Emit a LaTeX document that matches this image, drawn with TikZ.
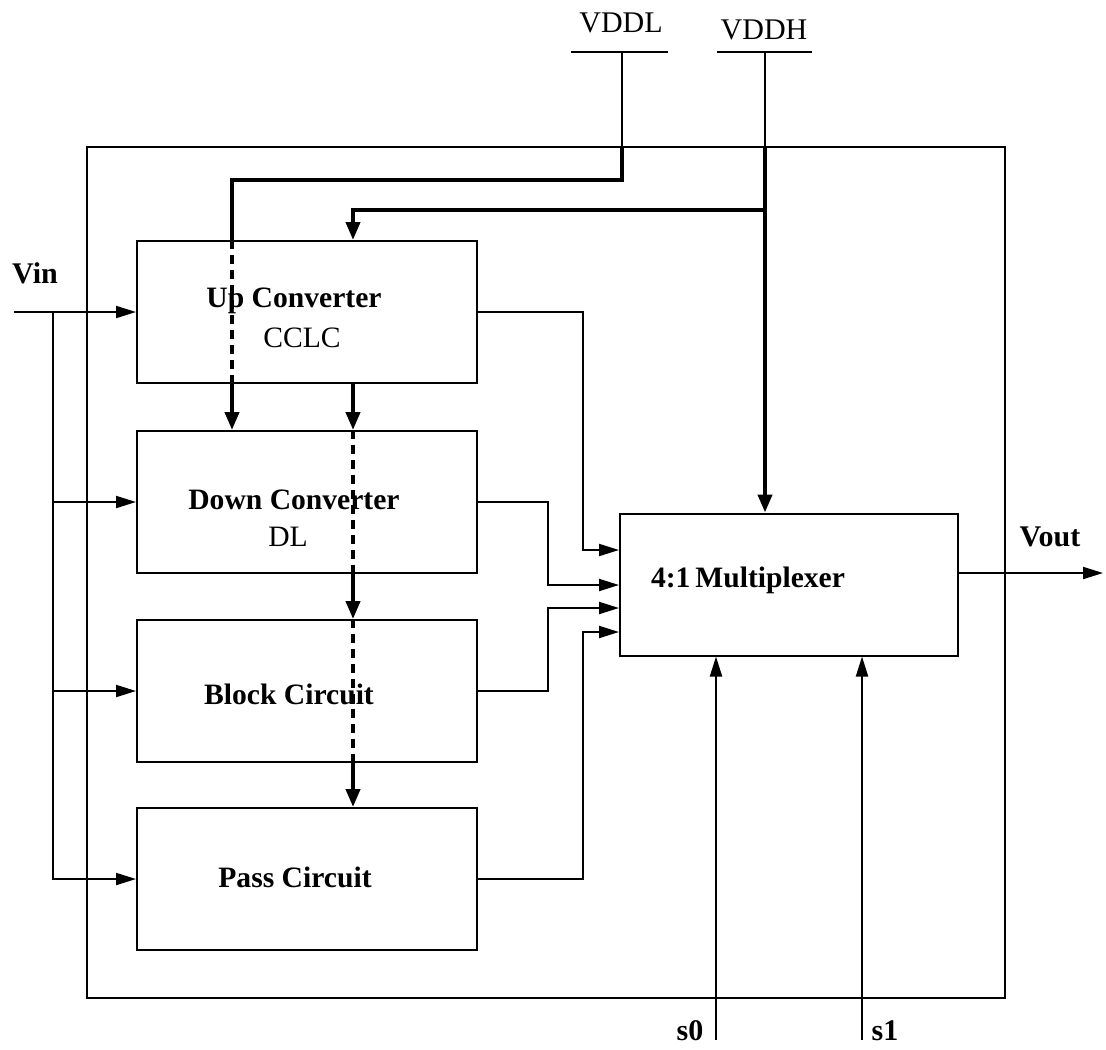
\documentclass[tikz,border=0pt]{standalone}
\usepackage{fontspec}
\setmainfont{Liberation Serif}
\usetikzlibrary{arrows.meta,calc}
\tikzset{
  box/.style={draw,line width=1pt,inner sep=0pt,minimum width=170pt,minimum height=71pt},
  lbl/.style={inner sep=0pt,font=\fontsize{14.8}{17}\selectfont\bfseries},
  sub/.style={inner sep=0pt,font=\fontsize{14.8}{17}\selectfont},
  wire/.style={line width=1pt},
  arr/.style={line width=1pt,-{Triangle[length=10pt,width=6pt]}},
  pwr/.style={line width=2pt},
  parr/.style={line width=2pt,-{Triangle[length=9pt,width=7pt]}},
  pdash/.style={line width=2pt,dash pattern=on 4.5pt off 3pt},
}
\begin{document}
\begin{tikzpicture}[x=0.5pt,y=-0.5pt]
\useasboundingbox (0,0) rectangle (1106,1049);
% outer frame
\node[draw,line width=1pt,inner sep=0pt,minimum width=459pt,minimum height=425.5pt] (frame) at (546,572.5) {};
% blocks
\node[box] (up) at (307,312) {};
\node[box] (down) at (307,502) {};
\node[box] (block) at (307,691) {};
\node[box] (pass) at (307,879) {};
\node[box,minimum width=169pt] (mux) at (789,584.5) {};
% labels
\node[lbl] (upt) at (294,301) {Up Converter};
\node[sub] (upst) at (302,338) {CCLC};
\node[lbl] (downt) at (294,500) {Down Converter};
\node[sub] (downst) at (288,537) {DL};
\node[lbl] (blockt) at (289,694) {Block Circuit};
\node[lbl] (passt) at (295,877) {Pass Circuit};
\node[lbl] (muxt) at (748,580) {4:1\,Multiplexer};
\node[sub,font=\fontsize{15}{18}\selectfont] (vddl) at (621,23) {VDDL};
\node[sub,font=\fontsize{15}{18}\selectfont] (vddh) at (764,30) {VDDH};
\node[lbl,font=\fontsize{15}{18}\selectfont\bfseries] (vin) at (35,273) {Vin};
\node[lbl,font=\fontsize{15}{18}\selectfont\bfseries] (vout) at (1050,537) {Vout};
\node[lbl,font=\fontsize{15}{18}\selectfont\bfseries] (s0) at (690,1031) {s0};
\node[lbl,font=\fontsize{15}{18}\selectfont\bfseries] (s1) at (885,1031) {s1};
% supply bars
\coordinate (vlA) at (571,52); \coordinate (vlB) at (668,52);
\coordinate (vhA) at (717,52); \coordinate (vhB) at (812,52);
\draw[wire] (vlA) -- (vlB);
\draw[wire] (vhA) -- (vhB);
\draw[wire] (622,52) -- (622,147);
\draw[wire] (765,52) -- (765,147);
% VDDL path
\draw[pwr] (622,147) -- (622,180) -- (232,180) -- (232,0 |- up.north);
\draw[pdash] (232,0 |- up.north) -- (232,0 |- up.south);
\draw[parr] (232,0 |- up.south) -- (232,0 |- down.north);
% VDDH path
\draw[parr] (765,147) -- (765,0 |- mux.north);
\draw[parr] (765,210) -- (353,210) -- (353,0 |- up.north);
\draw[parr] (353,0 |- up.south) -- (353,0 |- down.north);
\draw[pdash] (353,0 |- down.north) -- (353,0 |- down.south);
\draw[parr] (353,0 |- down.south) -- (353,0 |- block.north);
\draw[pdash] (353,0 |- block.north) -- (353,0 |- block.south);
\draw[parr] (353,0 |- block.south) -- (353,0 |- pass.north);
% Vin
\coordinate (vinS) at (14,312);
\draw[arr] (vinS) -- (up.west);
\draw[wire] (53,312) -- (53,880);
\draw[arr] (53,502) -- (down.west);
\draw[arr] (53,691) -- (block.west);
\draw[arr] (53,879) -- (pass.west);
% outputs to mux
\draw[arr] (up.east) -- (583,312) -- (583,550) -- (mux.west |- 0,550);
\draw[arr] (down.east) -- (548,502) -- (548,585) -- (mux.west |- 0,585);
\draw[arr] (block.east) -- (548,691) -- (548,608) -- (mux.west |- 0,608);
\draw[arr] (pass.east) -- (583,879) -- (583,632) -- (mux.west |- 0,632);
% Vout
\coordinate (voutE) at (1103,573);
\draw[arr] (mux.east |- voutE) -- (voutE);
% selects
\coordinate (s0b) at (716,1040);
\coordinate (s1b) at (862,1040);
\draw[arr] (s0b) -- (s0b |- mux.south);
\draw[arr] (s1b) -- (s1b |- mux.south);
\end{tikzpicture}
\end{document}
